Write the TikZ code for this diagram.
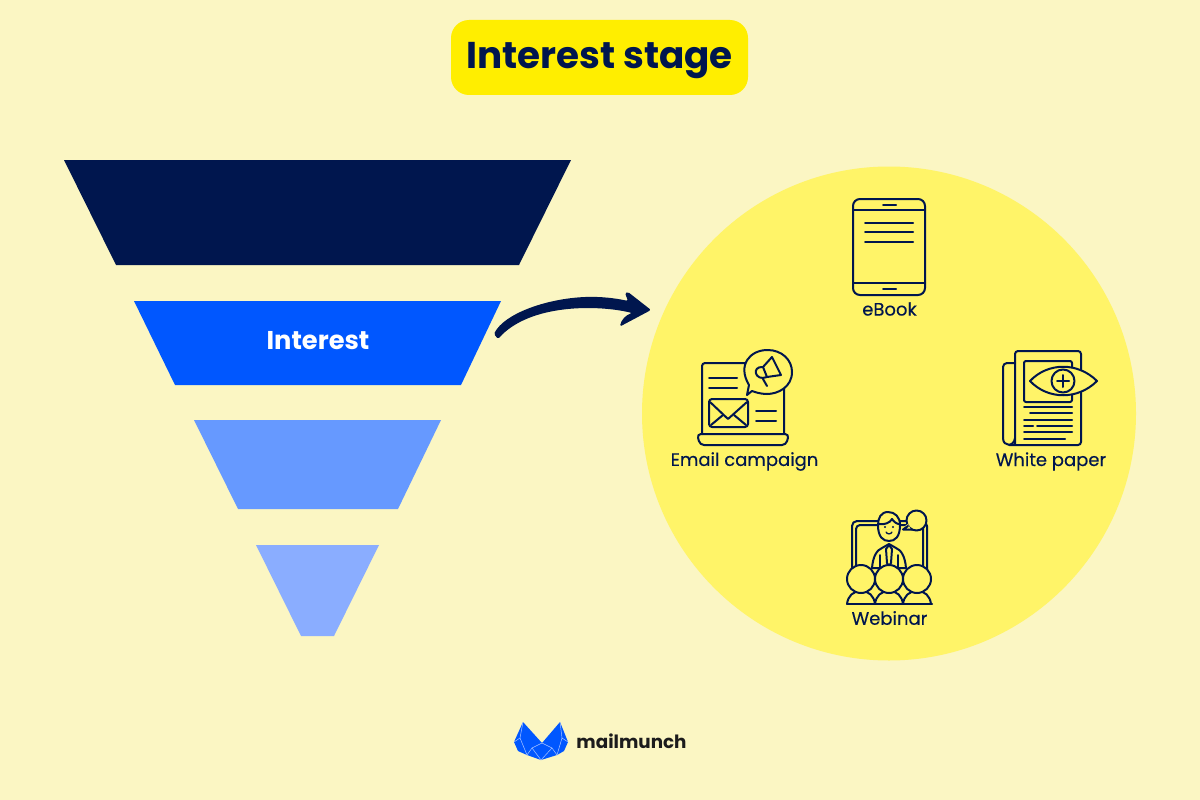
\documentclass[tikz,border=0pt]{standalone}
\usepackage{fontspec}
\setmainfont{Poppins}
\newfontfamily\labelfont[FakeBold=0.3]{Poppins}
\usetikzlibrary{positioning, calc}
\definecolor{pagebg}{HTML}{FBF6C3}
\definecolor{sunny}{HTML}{FFF468}
\definecolor{pill}{HTML}{FFEE00}
\definecolor{navy}{HTML}{00164E}
\definecolor{brandblue}{HTML}{0057FF}
\definecolor{midblue}{HTML}{6699FF}
\definecolor{paleblue}{HTML}{8AADFF}
\definecolor{logoink}{HTML}{1C1C1C}

\begin{document}
\begin{tikzpicture}[
      x=1pt, y=-1pt,
      title_box/.style={fill=pill, rounded corners=18pt, minimum width=297pt, minimum height=75pt, text=navy, font=\fontsize{37.3}{40}\selectfont\bfseries},
      icon_label/.style={text=navy, font=\fontsize{18}{20}\selectfont\labelfont, inner sep=0pt},
      icon/.style={draw=navy, line width=2pt, line cap=round, line join=round},
      icon_fill/.style={icon, fill=sunny},
      logo_line/.style={draw=paleblue!70, line width=0.5pt}
    ]
      % Page background fixes the picture size
      \fill[pagebg] (0,0) rectangle (1200,800);

      % Title
      \node[title_box] (title) at (599.5,57.5) {\raisebox{2pt}[\height][0pt]{Interest stage}};

      % Funnel layers, top to bottom
      \fill[navy] (64,160) -- (571,160) -- (519,265) -- (116,265) -- cycle;
      \fill[brandblue] (134,301) -- (501,301) -- (461,385) -- (175,385) -- cycle;
      \fill[midblue] (194,420) -- (441,420) -- (398,509) -- (238,509) -- cycle;
      \fill[paleblue] (256,545) -- (379,545) -- (334,636) -- (301,636) -- cycle;
      \node[text=white, font=\fontsize{25.7}{28}\selectfont\bfseries] (interest) at (318,340.5) {Interest};

      % Yellow circle holding the icons
      \node[circle, fill=sunny, minimum size=494pt, inner sep=0pt] (content_circle) at (889,413.5) {};

      % Tapered arrow from the funnel to the circle
      \coordinate (arrow_start) at (494,334);
      \coordinate (arrow_tip) at (651,310);
      \fill[navy, rounded corners=1.5pt] (arrow_start)
        .. controls (504,314) and (545,299) .. (585,297)
        .. controls (600,296.5) and (615,298) .. (628,301)
        -- (625,293) -- (628,292) -- (arrow_tip) -- (620,326.5)
        .. controls (621,320) and (626,315) .. (632,313)
        .. controls (600,305) and (530,303) .. (498,339) -- cycle;

      % eBook icon
      \draw[icon, rounded corners=7pt] (853,295) rectangle (925,199);
      \draw[icon] (853,210) -- (925,210);
      \draw[icon] (853,283) -- (925,283);
      \draw[icon] (883,205) -- (896,205);
      \draw[icon] (883,289) -- (896,289);
      \foreach \y in {223,232,242} {
        \draw[icon] (865,\y) -- (913,\y);
      }
      \node[icon_label] (ebook_label) at (889.5,309) {eBook};

      % Email campaign icon
      \draw[icon, rounded corners=3pt] (702,434) -- (702,363) -- (784,363) -- (784,434);
      \draw[icon, rounded corners=4pt] (697,434) -- (789,434) -- (786,445) -- (700,445) -- cycle;
      \draw[icon_fill] (747,395) -- (749,385)
        .. controls (737,365) and (750,350) .. (767.5,350)
        .. controls (782,350) and (792,360) .. (792,372)
        .. controls (792,387) and (778,394) .. (767,394)
        .. controls (760,394) and (755,392) .. (752,391) -- cycle;
      \draw[icon] (709,378) -- (737,378);
      \draw[icon] (709,388) -- (737,388);
      \draw[icon] (756,411) -- (776,411);
      \draw[icon] (756,421) -- (776,421);
      \draw[icon, rounded corners=3pt] (709,399) rectangle (748,427);
      \draw[icon] (710,402) -- (728,419) -- (747,402);
      \draw[icon] (711,425) -- (723,415);
      \draw[icon] (746,425) -- (734,415);
      % megaphone
      \draw[icon] (763,367) -- (772,357) -- (781,375) -- (767,377);
      \draw[icon] (763,367) -- (767,377);
      \draw[icon] (763,367) .. controls (751,366) and (755,382) .. (767,377);
      \draw[icon] (763,379) -- (767,386);
      \node[icon_label] (email_label) at (744.5,461.5) {Email campaign};

      % White paper icon
      \draw[icon, rounded corners=3pt] (1015,445) -- (1015,351) -- (1081,351) -- (1081,445) -- (1009,445);
      \draw[icon, rounded corners=4pt] (1015,363) -- (1003,363) -- (1003,438);
      \draw[icon] (1003,438) .. controls (1003,447) and (1014,447) .. (1015,438);
      \draw[icon, rounded corners=2pt] (1024,361) rectangle (1072,402);
      \draw[icon_fill] (1030,381) .. controls (1048,362) and (1078,362) .. (1097,381)
        .. controls (1078,400) and (1048,400) .. (1030,381) -- cycle;
      \draw[icon] (1063,381) circle (11.5);
      \draw[icon] (1057,381) -- (1069,381);
      \draw[icon] (1063,375) -- (1063,387);
      \foreach \y/\x in {407/1024,413/1030,420/1024,426/1037,432/1024} {
        \draw[icon] (\x,\y) -- (1072,\y);
      }
      \draw[icon] (1024,426) -- (1033,426);
      \draw[icon] (1024,439) -- (1065,439);
      \node[icon_label] (paper_label) at (1051,461.5) {White paper};

      % Webinar icon
      \draw[icon, rounded corners=5pt] (852,570) -- (852,521) -- (927,521) -- (927,570);
      \draw[icon, rounded corners=4pt] (856,570) -- (856,525) -- (923,525) -- (923,570);
      % presenter
      \draw[icon_fill] (872,568) .. controls (873,556) and (877,550) .. (882,548)
        -- (889,544) -- (896,548) .. controls (901,550) and (905,556) .. (906,568) -- cycle;
      \draw[icon] (880,555) -- (880,567);
      \draw[icon] (898,555) -- (898,567);
      \draw[icon] (889,545) -- (886,549) -- (887,563) -- (889,566) -- (891,563) -- (892,549) -- cycle;
      \draw[icon_fill] (878,525) .. controls (878,537) and (883,541) .. (889,541)
        .. controls (895,541) and (900,537) .. (900,525)
        .. controls (900,517) and (895,512) .. (888,512)
        .. controls (881,512) and (878,518) .. (878,525) -- cycle;
      \draw[icon] (879,524) .. controls (884,525) and (890,523) .. (892,519) .. controls (894,522) and (897,524) .. (899,524);
      \fill[navy] (885,527) circle (1.1) (893,527) circle (1.1);
      \draw[icon, line width=1.3pt] (886,532) .. controls (887,534.5) and (891,534.5) .. (892,532);
      % speech bubble
      \draw[icon_fill] (916.5,520.5) circle (10);
      \fill[sunny] (905,526) -- (911,530) -- (908,524) -- cycle;
      \draw[icon] (908,526) -- (903,529.5) -- (912,529.5);
      % audience, one shoulder arc and one head each
      \foreach \x in {861,889,917} {
        \draw[icon_fill] (\x-14,604) .. controls (\x-13,596) and (\x-8,591) .. (\x,591)
          .. controls (\x+8,591) and (\x+13,596) .. (\x+14,604);
        \draw[icon_fill] (\x,579) circle (14);
      }
      \draw[icon] (847,604) -- (932,604);
      \node[icon_label] (webinar_label) at (889.5,618) {Webinar};

      % Logo mark
      \fill[brandblue] (523,722) -- (514,742) -- (518,751) -- (527,755) -- (541,760) -- (557,755)
        -- (564,751) -- (568,742) -- (560,722) -- (542,743) -- cycle;
      \draw[logo_line] (523,722) -- (520,738) -- (514,742);
      \draw[logo_line] (520,738) -- (527,755) -- (532,748) -- (542,743) -- (552,748) -- (557,755) -- (562,738) -- (568,742);
      \draw[logo_line] (532,748) -- (541,760) -- (552,748);
      \draw[logo_line] (560,722) -- (562,738);
      \node[text=logoink, font=\fontsize{18.3}{22}\selectfont\bfseries, inner sep=0pt] (logo_text) at (631.5,741) {mailmunch};
\end{tikzpicture}
\end{document}
